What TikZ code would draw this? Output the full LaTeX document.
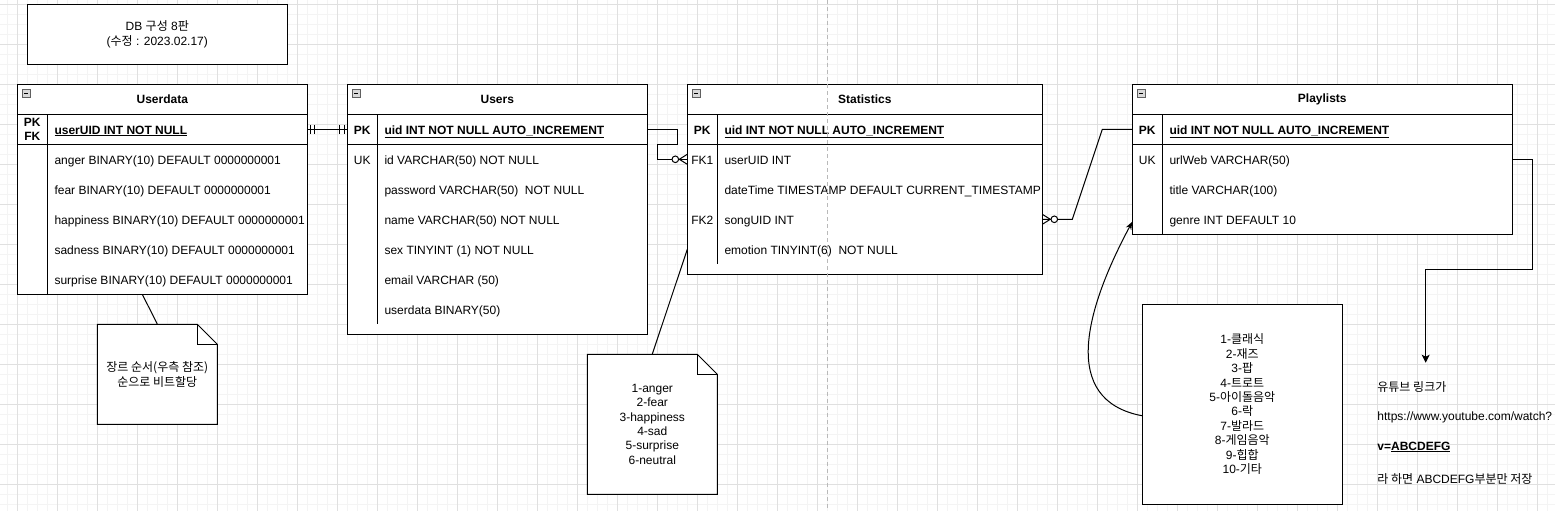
\documentclass[tikz,border=0pt]{standalone}
\usepackage{fontspec}
\setmainfont{Liberation Sans}
\newfontfamily\kr{Noto Sans CJK KR}
\usetikzlibrary{positioning}
\usetikzlibrary{calc, arrows.meta}

\tikzset{
  gridminor/.style={draw=gray!9, line width=1pt},
  gridmajor/.style={draw=gray!24, line width=1pt},
  pagebreak/.style={draw=gray!55, line width=1pt, dash pattern=on 4pt off 3pt},
  tblline/.style={draw=black, line width=1pt},
  tbl/.style={draw=black, line width=1pt, fill=white, anchor=north west, outer sep=0pt},
  tblhead/.style={font=\fontsize{12pt}{14.4pt}\selectfont\bfseries},
  keytxt/.style={text height=9.7pt, text depth=0pt},
  pktxt/.style={text height=9.7pt, text depth=0pt, font=\fontsize{12pt}{14.4pt}\selectfont\bfseries},
  field/.style={anchor=west, text height=9.7pt, text depth=0pt},
  pkfield/.style={anchor=west, text height=9.7pt, text depth=0pt, font=\fontsize{12pt}{14.4pt}\selectfont\bfseries},
  conn/.style={draw=black, line width=1pt},
  mandone/.pic={\draw[line width=1pt] (3,-4.5) -- (3,4.5) (7.5,-4.5) -- (7.5,4.5);},
  zeromany/.pic={\draw[line width=1pt] (8,0) -- (0,-5) (8,0) -- (0,5);
    \draw[line width=1pt, fill=white] (12,0) circle[radius=3.3pt];},
  tblminus/.pic={\draw[line width=0.8pt, draw=gray!75!black, fill=gray!30] (0,0) rectangle (8,8);
    \draw[line width=1pt] (2,4) -- (6,4);}
}

\begin{document}
\begin{tikzpicture}[x=1pt, y=-1pt, every node/.style={font=\fontsize{12pt}{14.4pt}\selectfont, inner sep=0pt, text=black}]
\useasboundingbox (0,0) rectangle (1555,511);
\fill[white] (0,0) rectangle (1555,511);
% grid
\foreach \gx in {7.3,17.3,...,1550} \draw[gridminor] (\gx,0) -- (\gx,511);
\foreach \gy in {4.3,14.3,...,511} \draw[gridminor] (0,\gy) -- (1555,\gy);
\foreach \gx in {17.3,57.3,...,1555} \draw[gridmajor] (\gx,0) -- (\gx,511);
\foreach \gy in {4.3,44.3,...,511} \draw[gridmajor] (0,\gy) -- (1555,\gy);

\node[draw, line width=1pt, fill=white, minimum width=260pt, minimum height=60pt, align=center] (title) at (157.3,34.3) {DB {\kr 구성} 8{\kr 판}\\[0.6pt]({\kr 수정} : 2023.02.17)};

% Userdata
\node[tbl, minimum width=290pt, minimum height=210pt] (userdata) at (17.3,84.3) {};
\draw[tblline] (17.3,114.3) -- (307.3,114.3);
\draw[tblline] (17.3,144.3) -- (307.3,144.3);
\draw[tblline] (47.3,114.3) -- (47.3,294.3);
\pic at (22.3,89.3) {tblminus};
\node[tblhead] (udtitle) at (162.3,99.3) {Userdata};
\node[align=center, font=\fontsize{12pt}{14pt}\selectfont\bfseries] (udkey) at (32.3,129.7) {PK\\FK};
\node[pkfield] (udpk) at (54.3,129.3) {\underline{userUID INT NOT NULL}};
\node[field] (udanger) at (54.3,159.3) {anger BINARY(10) DEFAULT 0000000001};
\node[field] (udfear) at (54.3,189.3) {fear BINARY(10) DEFAULT 0000000001};
\node[field] (udhappy) at (54.3,219.3) {happiness BINARY(10) DEFAULT 0000000001};
\node[field] (udsad) at (54.3,249.3) {sadness BINARY(10) DEFAULT 0000000001};
\node[field] (udsurprise) at (54.3,279.3) {surprise BINARY(10) DEFAULT 0000000001};

% Users
\node[tbl, minimum width=300pt, minimum height=250pt] (users) at (347.3,84.3) {};
\draw[tblline] (347.3,114.3) -- (647.3,114.3);
\draw[tblline] (347.3,144.3) -- (647.3,144.3);
\draw[tblline] (377.3,114.3) -- (377.3,324.3);
\pic at (352.3,89.3) {tblminus};
\node[tblhead] (ustitle) at (497.3,99.3) {Users};
\node[pktxt] (uskey) at (362.3,129.3) {PK};
\node[keytxt] (usuk) at (362.3,159.3) {UK};
\node[pkfield] (uspk) at (384.3,129.3) {\underline{uid INT NOT NULL AUTO\_INCREMENT}};
\node[field] (usid) at (384.3,159.3) {id VARCHAR(50) NOT NULL};
\node[field] (uspw) at (384.3,189.3) {password VARCHAR(50)\ \ NOT NULL};
\node[field] (usname) at (384.3,219.3) {name VARCHAR(50) NOT NULL};
\node[field] (ussex) at (384.3,249.3) {sex TINYINT (1) NOT NULL};
\node[field] (usemail) at (384.3,279.3) {email VARCHAR (50)};
\node[field] (usdata) at (384.3,309.3) {userdata BINARY(50)};

% Statistics
\node[tbl, minimum width=355pt, minimum height=190pt] (statistics) at (687.3,84.3) {};
\draw[tblline] (687.3,114.3) -- (1042.3,114.3);
\draw[tblline] (687.3,144.3) -- (1042.3,144.3);
\draw[tblline] (717.3,114.3) -- (717.3,264.3);
\pic at (692.3,89.3) {tblminus};
\node[tblhead] (sttitle) at (864.8,99.3) {Statistics};
\node[pktxt] (stkey) at (702.3,129.3) {PK};
\node[keytxt] (stfkey1) at (702.3,159.3) {FK1};
\node[keytxt] (stfkey2) at (702.3,219.3) {FK2};
\node[pkfield] (stpk) at (724.3,129.3) {\underline{uid INT NOT NULL AUTO\_INCREMENT}};
\node[field] (stfk1) at (724.3,159.3) {userUID INT};
\node[field] (sttime) at (724.3,189.3) {dateTime TIMESTAMP DEFAULT CURRENT\_TIMESTAMP};
\node[field] (stfk2) at (724.3,219.3) {songUID INT};
\node[field] (stemo) at (724.3,249.3) {emotion TINYINT(6)\ \ NOT NULL};

% Playlists
\node[tbl, minimum width=380pt, minimum height=150pt] (playlists) at (1132.3,84.3) {};
\draw[tblline] (1132.3,114.3) -- (1512.3,114.3);
\draw[tblline] (1132.3,144.3) -- (1512.3,144.3);
\draw[tblline] (1162.3,114.3) -- (1162.3,234.3);
\pic at (1137.3,89.3) {tblminus};
\node[tblhead] (pltitle) at (1322.3,99.3) {Playlists};
\node[pktxt] (plkey) at (1147.3,129.3) {PK};
\node[keytxt] (pluk) at (1147.3,159.3) {UK};
\node[pkfield] (plpk) at (1169.3,129.3) {\underline{uid INT NOT NULL AUTO\_INCREMENT}};
\node[field] (plurl) at (1169.3,159.3) {urlWeb VARCHAR(50)};
\node[field] (plname) at (1169.3,189.3) {title VARCHAR(100)};
\node[field] (plgenre) at (1169.3,219.3) {genre INT DEFAULT 10};

% notes
\filldraw[tblline, fill=white] (97.3,324.3) -- (197.3,324.3) -- (217.3,344.3) -- (217.3,424.3) -- (97.3,424.3) -- cycle;
\draw[tblline] (197.3,324.3) -- (197.3,344.3) -- (217.3,344.3);
\node[align=center, minimum width=120pt, minimum height=100pt] (udnote) at (157.3,374.3) {{\kr 장르 순서(우측 참조)}\\[0.6pt]{\kr 순으로 비트할당}};

\filldraw[tblline, fill=white] (587.3,354.3) -- (697.3,354.3) -- (717.3,374.3) -- (717.3,494.3) -- (587.3,494.3) -- cycle;
\draw[tblline] (697.3,354.3) -- (697.3,374.3) -- (717.3,374.3);
\node[align=center, minimum width=130pt, minimum height=140pt] (emonote) at (652.3,424.3) {1-anger\\2-fear\\3-happiness\\4-sad\\5-surprise\\6-neutral};

\node[draw, line width=1pt, fill=white, minimum width=200pt, minimum height=200pt, align=center] (genrebox) at (1242.3,404.3) {1-{\kr 클래식}\\2-{\kr 재즈}\\3-{\kr 팝}\\4-{\kr 트로트}\\5-{\kr 아이돌음악}\\6-{\kr 락}\\7-{\kr 발라드}\\8-{\kr 게임음악}\\9-{\kr 힙합}\\10-{\kr 기타}};

\node[anchor=base west] (yt1) at (1377.2,391.8) {{\kr 유튜브 링크가}};
\node[anchor=base west] (yt2) at (1377.2,420.8) {https://www.youtube.com/watch?};
\node[anchor=base west] (yt3) at (1377.2,450) {\textbf{v=\underline{ABCDEFG}}};
\node[anchor=base west] (yt4) at (1377.2,483.7) {{\kr 라 하면} ABCDEFG{\kr 부분만 저장}};
\coordinate (ytin) at (1425.7,362.7);

% connectors
\draw[conn] (userdata.east |- udpk) -- (users.west |- uspk);
\pic at (userdata.east |- udpk) {mandone};
\pic[xscale=-1] at (users.west |- uspk) {mandone};

\draw[conn] (users.east |- uspk) -- ++(30,0) -- ++(0,15) -- ++(-20,0) |- (statistics.west |- stfk1);
\pic[xscale=-1] at (statistics.west |- stfk1) {zeromany};

\draw[conn] (statistics.east |- stfk2) -- ++(30,0) -- ($(playlists.west |- plpk)+(-30,0)$) -- (playlists.west |- plpk);
\pic at (statistics.east |- stfk2) {zeromany};

\draw[conn] (udnote.north) -- ($(userdata.south)+(-20,0)$);
\draw[conn] (emonote.north) -- (statistics.west |- stemo);
\draw[conn, -{Stealth[length=8pt, width=6pt]}] ($(genrebox.west)+(0,11.4)$) .. controls (1060,400) and (1085,310) .. ($(playlists.south west)+(0,-12.6)$);
\draw[conn, -{Stealth[length=8pt, width=8pt, inset=2pt]}] (playlists.east |- plurl) -- ++(20.4,0) -- ++(0,110) -| (ytin);

\draw[pagebreak] (827.3,0) -- (827.3,511);
\end{tikzpicture}
\end{document}
